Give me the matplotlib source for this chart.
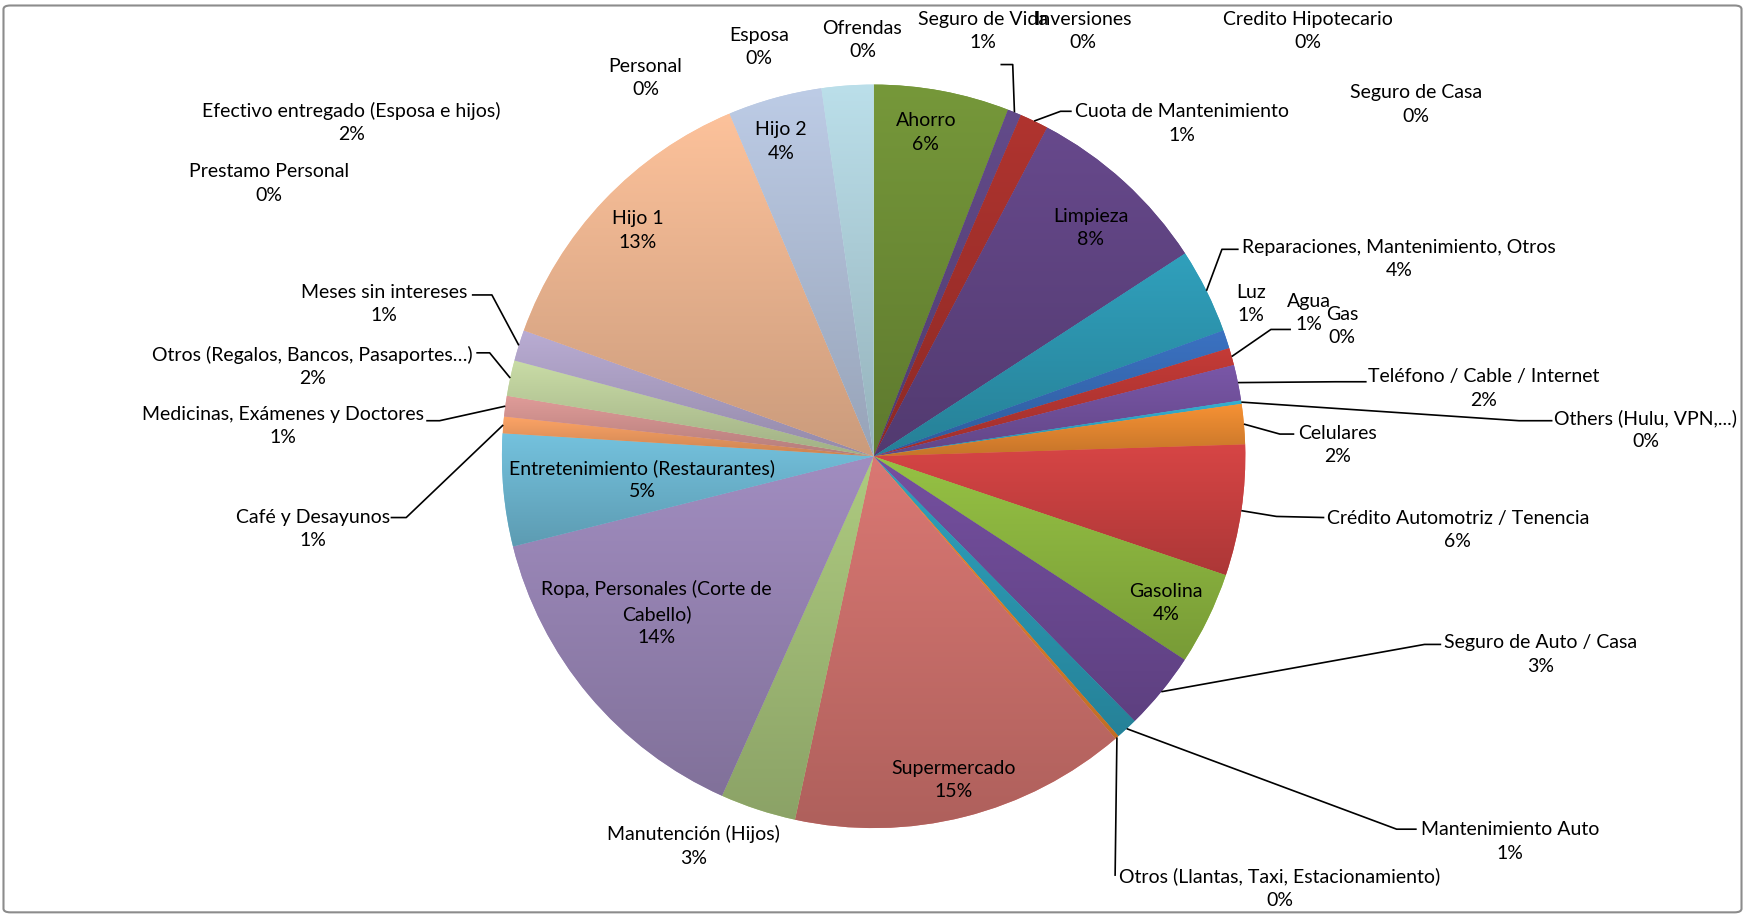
import textwrap
import numpy as np
import matplotlib
matplotlib.use("Agg")
import matplotlib.pyplot as plt
from matplotlib.colors import to_rgb
from matplotlib.patches import FancyBboxPatch

# gastos, en orden de las rebanadas (sentido horario desde las 12)
categories = [
    "Ahorro", "Seguro de Vida", "Inversiones", "Cuota de Mantenimiento",
    "Credito Hipotecario", "Seguro de Casa", "Limpieza",
    "Reparaciones, Mantenimiento, Otros", "Luz", "Agua", "Gas",
    "Teléfono / Cable / Internet", "Others (Hulu, VPN,...)", "Celulares",
    "Crédito Automotriz / Tenencia", "Gasolina", "Seguro de Auto / Casa",
    "Mantenimiento Auto", "Otros (Llantas, Taxi, Estacionamiento)",
    "Supermercado", "Manutención (Hijos)", "Ropa, Personales (Corte de Cabello)",
    "Entretenimiento (Restaurantes)", "Café y Desayunos",
    "Medicinas, Exámenes y Doctores", "Otros (Regalos, Bancos, Pasaportes…)",
    "Meses sin intereses", "Prestamo Personal", "Hijo 1", "Personal", "Hijo 2",
    "Esposa", "Ofrendas", "Efectivo entregado (Esposa e hijos)",
]
values = [
    5.9, 0.6, 0, 1.25,
    0, 0, 8.1,
    3.7, 0.8, 0.75, 0,
    1.55, 0.15, 1.75,
    5.7, 4.05, 3.4,
    0.95, 0.17,
    14.7, 3.3, 14.45,
    4.9, 0.72,
    0.9, 1.55,
    1.35, 0, 13.2, 0, 4.1,
    0, 0, 2.25,
]
colors = [
    "#76983A", "#634B8A", "#2E9AB6", "#B0342F",
    "#4F81BD", "#9BBB59", "#67498C",
    "#30A0BC", "#3B72C2", "#C53B37", "#9BBB59",
    "#7A57A8", "#34B0D0", "#F79234",
    "#D74545", "#96C244", "#7550A0",
    "#2FA2BE", "#F08A30",
    "#DA7873", "#AECB80", "#A18DC0",
    "#74C2DE", "#FDA466",
    "#E09C99", "#C9DCA6",
    "#B9ACD3", "#93CDDD", "#FDC29B", "#B9CDE5", "#BDCCE6",
    "#D7E4BD", "#CCC1DA", "#BBDFEA",
]

# layout in reference pixels (1568 x 823, y down)
W, H = 1568, 823
center = (785, 410)
radius = 334

label_pos = {
    "Ahorro": (832, 119), "Seguro de Vida": (883, 28), "Inversiones": (973, 28),
    "Cuota de Mantenimiento": (1062, 111), "Credito Hipotecario": (1175, 28),
    "Seguro de Casa": (1272, 94), "Limpieza": (980, 205),
    "Reparaciones, Mantenimiento, Otros": (1257, 233), "Luz": (1124, 273),
    "Agua": (1176, 281), "Gas": (1206, 293),
    "Teléfono / Cable / Internet": (1333, 349), "Others (Hulu, VPN,...)": (1479, 386),
    "Celulares": (1202, 400), "Crédito Automotriz / Tenencia": (1310, 476),
    "Gasolina": (1048, 542), "Seguro de Auto / Casa": (1384, 588),
    "Mantenimiento Auto": (1357, 756),
    "Otros (Llantas, Taxi, Estacionamiento)": (1150, 798),
    "Supermercado": (857, 701), "Manutención (Hijos)": (623, 760),
    "Ropa, Personales (Corte de Cabello)": (590, 551),
    "Entretenimiento (Restaurantes)": (577, 431), "Café y Desayunos": (281, 475),
    "Medicinas, Exámenes y Doctores": (254, 383),
    "Otros (Regalos, Bancos, Pasaportes…)": (281, 329),
    "Meses sin intereses": (345, 273), "Prestamo Personal": (242, 165),
    "Hijo 1": (573, 207), "Personal": (580, 70), "Hijo 2": (702, 127),
    "Esposa": (682, 42), "Ofrendas": (775, 36),
    "Efectivo entregado (Esposa e hijos)": (316, 110),
}
wrap_width = {"Ropa, Personales (Corte de Cabello)": 26}

# leader lines: bend point and end point near the label
leaders = {
    "Seguro de Vida": [(910, 58), (899, 58)],
    "Cuota de Mantenimiento": [(953, 100), (963, 100)],
    "Reparaciones, Mantenimiento, Otros": [(1098, 224), (1113, 224)],
    "Agua": [(1142, 296), (1160, 296)],
    "Teléfono / Cable / Internet": [(1200, 343), (1228, 343)],
    "Others (Hulu, VPN,...)": [(1365, 378), (1395, 378)],
    "Celulares": [(1150, 390), (1163, 390)],
    "Crédito Automotriz / Tenencia": [(1147, 464), (1190, 465)],
    "Seguro de Auto / Casa": [(1280, 579), (1295, 579)],
    "Mantenimiento Auto": [(1255, 745), (1273, 745)],
    "Otros (Llantas, Taxi, Estacionamiento)": [(1002, 787), (1002, 787)],
    "Café y Desayunos": [(365, 465), (351, 465)],
    "Medicinas, Exámenes y Doctores": [(395, 378), (383, 378)],
    "Otros (Regalos, Bancos, Pasaportes…)": [(440, 317), (428, 317)],
    "Meses sin intereses": [(442, 265), (424, 265)],
}

plt.rcParams["font.family"] = ["Lato", "DejaVu Sans"]

fig = plt.figure(figsize=(17.45, 9.16), dpi=100)
ax = fig.add_axes([0, 0, 1, 1])

wedges, _ = ax.pie(values, colors=colors, startangle=270, counterclock=True,
                   center=center, radius=radius, wedgeprops=dict(linewidth=0))
ax.set_xlim(0, W)
ax.set_ylim(H, 0)
ax.set_aspect("auto")
ax.axis("off")

# vertical gradient on each slice, lighter on top, darker below
shade = np.linspace(1.0, 0.8, 256)
for w, v, c in zip(wedges, values, colors):
    if v <= 0:
        continue
    t = np.radians(np.linspace(w.theta1, w.theta2, 60))
    xs = np.append(center[0] + radius * np.cos(t), center[0])
    ys = np.append(center[1] + radius * np.sin(t), center[1])
    grad = np.clip(np.array(to_rgb(c))[None, None, :] * shade[:, None, None], 0, 1)
    grad = np.repeat(grad, 2, axis=1)
    im = ax.imshow(grad, extent=(xs.min(), xs.max(), ys.max(), ys.min()),
                   origin="upper", aspect="auto", interpolation="bilinear", zorder=1.5)
    im.set_clip_path(w)
ax.set_xlim(0, W)
ax.set_ylim(H, 0)

total = sum(values)
for w, name, v in zip(wedges, categories, values):
    pct = f"{round(v / total * 100):.0f}%"
    shown = textwrap.fill(name, wrap_width[name]) if name in wrap_width else name
    x, y = label_pos[name]
    ax.text(x, y, f"{shown}\n{pct}", ha="center", va="center", fontsize=14,
            linespacing=1.45, color="black", zorder=5)
    if name in leaders:
        mid = np.radians((w.theta1 + w.theta2) / 2)
        sx = center[0] + radius * np.cos(mid)
        sy = center[1] + radius * np.sin(mid)
        pts = [(sx, sy)] + leaders[name]
        ax.plot([p[0] for p in pts], [p[1] for p in pts], color="black",
                lw=1.2, zorder=4, solid_capstyle="butt")

fig.patches.append(FancyBboxPatch((0.002, 0.004), 0.996, 0.99,
                                  boxstyle="round,pad=0,rounding_size=0.004",
                                  transform=fig.transFigure, fill=False,
                                  edgecolor="#8C8C8C", lw=1.5))

fig.savefig("out.png", dpi=100)
